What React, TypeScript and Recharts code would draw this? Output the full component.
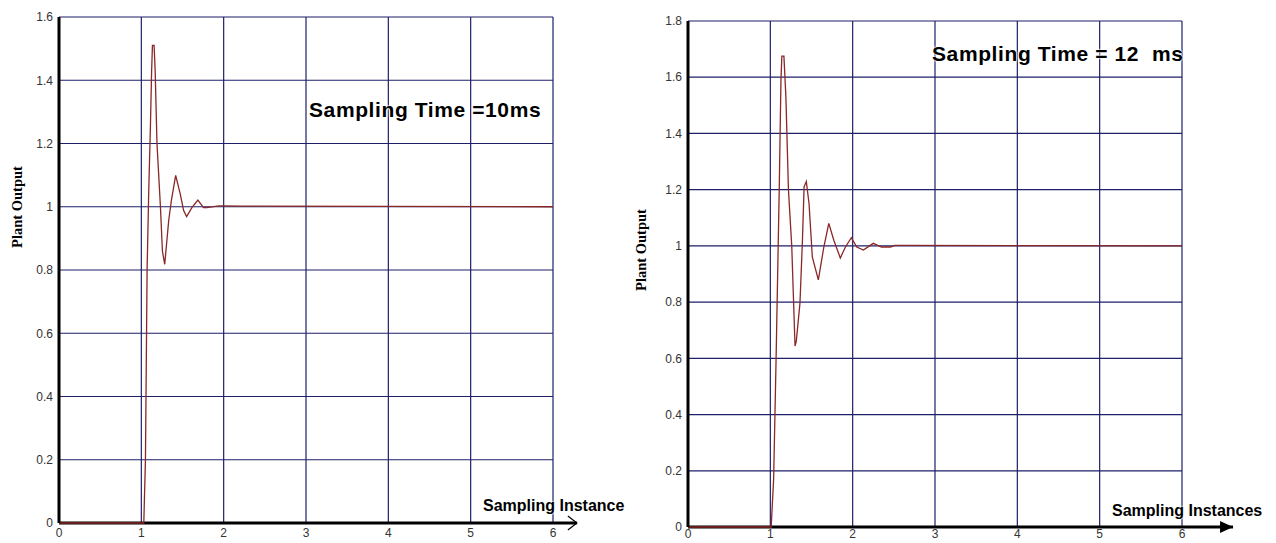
import React from "react";
import {
  LineChart,
  Line,
  XAxis,
  YAxis,
  CartesianGrid,
  ReferenceLine,
  ReferenceDot,
} from "recharts";

// left panel: sampling time 10 ms
const leftX = [0, 1.03, 1.05, 1.06, 1.07, 1.09, 1.11, 1.125, 1.135, 1.155, 1.168, 1.19, 1.232, 1.256, 1.284, 1.333, 1.365, 1.417, 1.473, 1.514, 1.55, 1.614, 1.687, 1.755, 1.795, 1.94, 2.0, 2.2, 2.27, 6];
const leftY = [0, 0, 0.2, 0.5, 0.8, 1.05, 1.25, 1.43, 1.51, 1.51, 1.43, 1.2, 1.0, 0.86, 0.818, 0.958, 1.02, 1.099, 1.04, 0.988, 0.969, 0.997, 1.021, 0.997, 0.997, 1.003, 1.003, 1.002, 1.002, 1];
const leftTicksY = [0, 0.2, 0.4, 0.6, 0.8, 1, 1.2, 1.4, 1.6];

// right panel: sampling time 12 ms
const rightX = [0, 1.01, 1.04, 1.07, 1.108, 1.129, 1.14, 1.165, 1.189, 1.22, 1.26, 1.3, 1.315, 1.36, 1.39, 1.41, 1.437, 1.47, 1.51, 1.583, 1.65, 1.71, 1.771, 1.85, 1.912, 1.984, 2.05, 2.13, 2.25, 2.35, 2.46, 2.51, 2.59, 6];
const rightY = [0, 0, 0.17, 0.6, 1.2, 1.59, 1.675, 1.675, 1.53, 1.2, 1.0, 0.644, 0.66, 0.797, 1.02, 1.21, 1.229, 1.151, 0.961, 0.879, 0.996, 1.08, 1.02, 0.957, 0.996, 1.029, 0.996, 0.985, 1.009, 0.996, 0.996, 1.002, 1.002, 1];
const rightTicksY = [0, 0.2, 0.4, 0.6, 0.8, 1, 1.2, 1.4, 1.6, 1.8];

const ticksX = [0, 1, 2, 3, 4, 5, 6];

const toRows = (xs: number[], ys: number[]) => xs.map((x, i) => ({ x, y: ys[i] }));

const gridColor = "#1f1f6a";
const lineColor = "#8a2727";
const tickStyle = { fontFamily: "Liberation Sans, Arial, sans-serif", fontSize: 12, fill: "#333" };

const fmt = (v: number) => (v === 0 ? "0" : String(v));

function OpenArrow(props: any) {
  const { cx, cy } = props;
  return <path d={`M${cx - 9},${cy - 7} L${cx},${cy} L${cx - 9},${cy + 7}`} fill="none" stroke="#000" strokeWidth={1.2} />;
}

function FilledArrow(props: any) {
  const { cx, cy } = props;
  return <path d={`M${cx - 13},${cy - 6} L${cx},${cy} L${cx - 13},${cy + 6} Z`} fill="#000" />;
}

interface PanelProps {
  rows: { x: number; y: number }[];
  yMax: number;
  yTicks: number[];
  width: number;
  height: number;
  margin: { top: number; right: number; left: number; bottom: number };
  yAxisWidth: number;
  xAxisHeight: number;
  xTickMargin: number;
  arrowX: number;
  filled?: boolean;
}

function Panel({ rows, yMax, yTicks, width, height, margin, yAxisWidth, xAxisHeight, xTickMargin, arrowX, filled }: PanelProps) {
  return (
    <LineChart width={width} height={height} data={rows} margin={margin}>
      <CartesianGrid stroke={gridColor} strokeWidth={1.2} horizontalValues={yTicks} verticalValues={ticksX} />
      <XAxis
        dataKey="x"
        type="number"
        domain={[0, 6]}
        ticks={ticksX}
        axisLine={false}
        tickLine={false}
        tickSize={0}
        tickMargin={xTickMargin}
        height={xAxisHeight}
        tick={tickStyle}
        interval={0}
      />
      <YAxis
        type="number"
        domain={[0, yMax]}
        ticks={yTicks}
        tickFormatter={fmt}
        axisLine={{ stroke: "#000", strokeWidth: 3 }}
        tickLine={false}
        tickSize={0}
        tickMargin={6}
        width={yAxisWidth}
        tick={tickStyle}
        interval={0}
      />
      <ReferenceLine
        segment={[{ x: 0, y: 0 }, { x: arrowX, y: 0 }]}
        stroke="#000"
        strokeWidth={3}
        ifOverflow="visible"
      />
      <ReferenceDot x={arrowX} y={0} ifOverflow="visible" shape={filled ? FilledArrow : OpenArrow} />
      <Line
        type="linear"
        dataKey="y"
        stroke={lineColor}
        strokeWidth={1.3}
        dot={false}
        isAnimationActive={false}
      />
    </LineChart>
  );
}

const boldSans: React.CSSProperties = {
  position: "absolute",
  fontFamily: "Liberation Sans, Arial, sans-serif",
  fontWeight: "bold",
  color: "#000",
  whiteSpace: "pre",
  textShadow: "0 0 2px #fff, 0 0 2px #fff, 0 0 2px #fff",
  lineHeight: 1,
};

const yTitle: React.CSSProperties = {
  position: "absolute",
  fontFamily: "Liberation Serif, Times New Roman, serif",
  fontWeight: "bold",
  fontSize: 14.5,
  whiteSpace: "pre",
  transform: "translate(-50%, -50%) rotate(-90deg)",
  lineHeight: 1,
};

export default function App() {
  return (
    <div style={{ position: "fixed", left: 0, top: 0, width: 1276, height: 543, background: "#fff", overflow: "hidden" }}>
      <div style={{ position: "absolute", left: 0, top: 0 }}>
        <Panel
          rows={toRows(leftX, leftY)}
          yMax={1.6}
          yTicks={leftTicksY}
          width={640}
          height={543}
          margin={{ top: 17, right: 87, left: 0, bottom: 0 }}
          yAxisWidth={59}
          xAxisHeight={20}
          xTickMargin={5}
          arrowX={6.29}
        />
      </div>
      <div style={{ position: "absolute", left: 640, top: 0 }}>
        <Panel
          rows={toRows(rightX, rightY)}
          yMax={1.8}
          yTicks={rightTicksY}
          width={636}
          height={543}
          margin={{ top: 21, right: 94, left: 0, bottom: 0 }}
          yAxisWidth={48}
          xAxisHeight={16}
          xTickMargin={2}
          arrowX={6.62}
          filled
        />
      </div>
      <div style={{ ...yTitle, left: 17, top: 207 }}>Plant Output</div>
      <div style={{ ...yTitle, left: 641, top: 250 }}>Plant Output</div>
      <div style={{ ...boldSans, left: 309, top: 99, fontSize: 21, letterSpacing: 0.6 }}>Sampling Time =10ms</div>
      <div style={{ ...boldSans, left: 932, top: 43, fontSize: 21, letterSpacing: 0.6 }}>Sampling Time = 12  ms</div>
      <div style={{ ...boldSans, left: 483, top: 498, fontSize: 16 }}>Sampling Instance</div>
      <div style={{ ...boldSans, left: 1112, top: 503, fontSize: 16 }}>Sampling Instances</div>
    </div>
  );
}
